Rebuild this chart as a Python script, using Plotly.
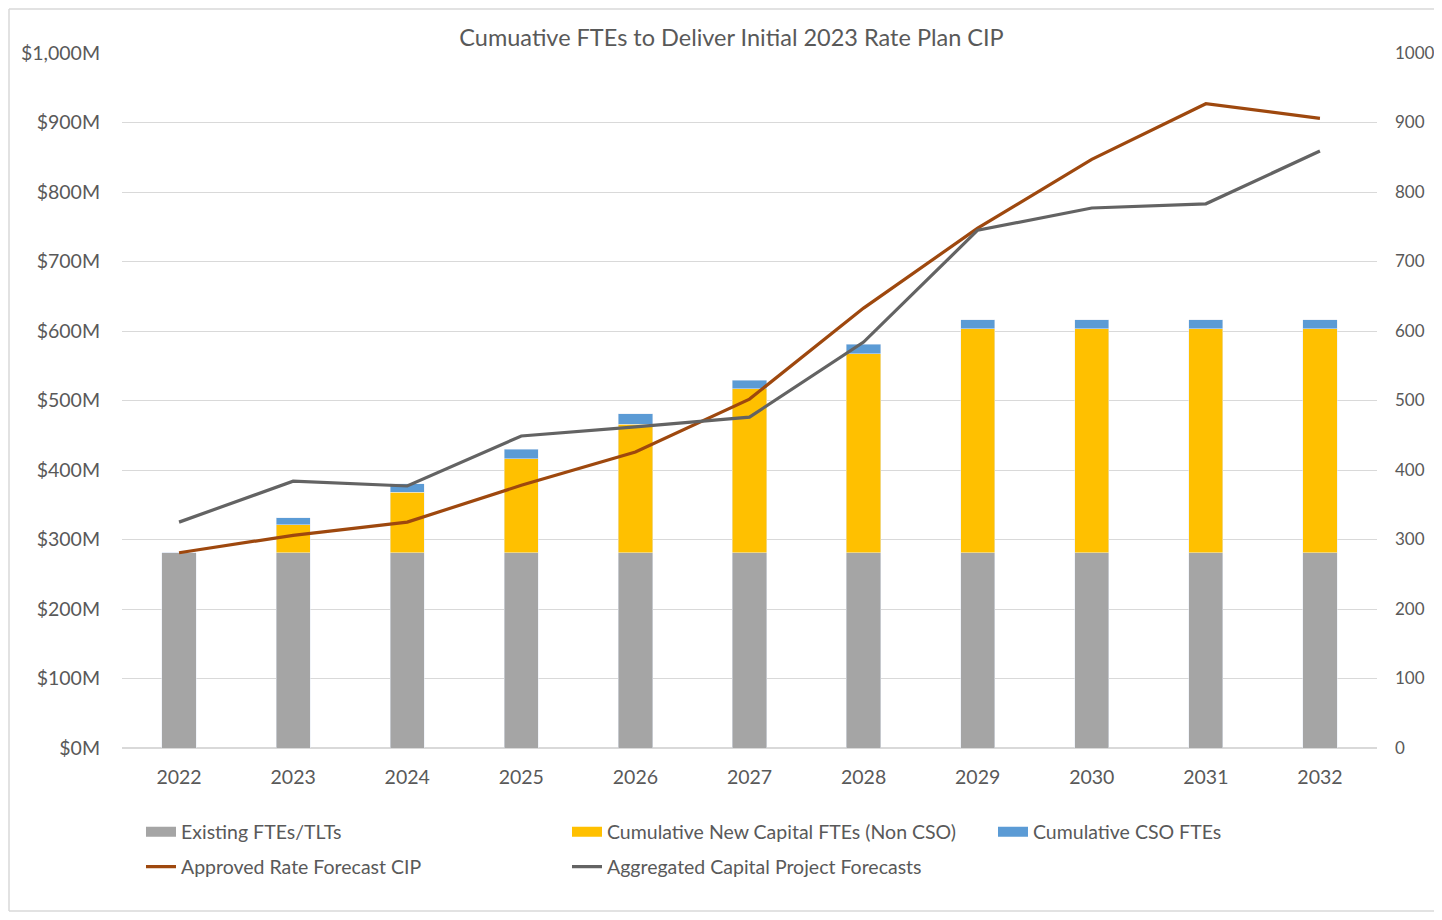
import plotly.graph_objects as go

years = ["2022", "2023", "2024", "2025", "2026", "2027", "2028", "2029", "2030", "2031", "2032"]
existing_ftes = [281, 281, 281, 281, 281, 281, 281, 281, 281, 281, 281]
new_capital_ftes = [0, 40, 87, 135, 185, 236, 286, 322, 322, 322, 322]
cso_ftes = [0, 10, 12, 14, 15, 12, 14, 13, 13, 13, 13]
approved_cip = [281, 306, 325, 378, 426, 502, 633, 748, 847, 927, 906]
aggregated_forecasts = [325, 384, 377, 449, 462, 476, 584, 745, 777, 783, 859]

tickvals = [0, 100, 200, 300, 400, 500, 600, 700, 800, 900, 1000]
left_ticktext = ["$0M", "$100M", "$200M", "$300M", "$400M", "$500M", "$600M", "$700M", "$800M", "$900M", "$1,000M"]
right_ticktext = ["0", "100", "200", "300", "400", "500", "600", "700", "800", "900", "1000"]

bar_names = ["Existing FTEs/TLTs", "Cumulative New Capital FTEs (Non CSO)", "Cumulative CSO FTEs"]
bar_colors = ["#A5A5A5", "#FFC000", "#5B9BD5"]

FONT = "Lato, 'Open Sans', sans-serif"
TXT = "#595959"
FS = 19.5

# page body has an 8px margin: figure coordinates = reference pixels - 8
OFF = 8
W, H = 1442 - OFF, 920 - 2 * OFF
L, R, T, B = 122 - OFF, W - (1377 - OFF), 53 - OFF, H - (748 - OFF)
pw, ph = W - L - R, H - T - B

def px_x(p):
    return (p - OFF - L) / pw

def px_y(p):
    return (H - B - (p - OFF)) / ph

fig = go.Figure()
for vals, name, col in zip([existing_ftes, new_capital_ftes, cso_ftes], bar_names, bar_colors):
    fig.add_trace(go.Bar(x=years, y=vals, name=name, marker_color=col, yaxis="y",
                         showlegend=False))
# legend entries for the bars drawn as wide, thick swatches
for name, col in zip(bar_names, bar_colors):
    fig.add_trace(go.Scatter(x=[None], y=[None], name=name, mode="lines",
                             line=dict(color=col, width=14), yaxis="y", legend="legend"))
fig.add_trace(go.Scatter(x=years, y=approved_cip, name="Approved Rate Forecast CIP",
                         mode="lines", line=dict(color="#9E480E", width=3.2), yaxis="y2",
                         legend="legend2"))
fig.add_trace(go.Scatter(x=years, y=aggregated_forecasts, name="Aggregated Capital Project Forecasts",
                         mode="lines", line=dict(color="#636363", width=3.2), yaxis="y2",
                         legend="legend2"))

legend_common = dict(orientation="h", x=-0.0008, xanchor="left", yanchor="middle",
                     entrywidth=361, entrywidthmode="pixels", traceorder="normal",
                     indentation=20, itemwidth=30,
                     font=dict(size=FS, color=TXT, family=FONT), bgcolor="rgba(0,0,0,0)")

fig.update_layout(
    width=W, height=H,
    margin=dict(l=L, r=R, t=T, b=B, autoexpand=False),
    paper_bgcolor="white", plot_bgcolor="white",
    barmode="stack", bargap=0.7,
    font=dict(family=FONT, size=FS, color=TXT),
    title=dict(text="Cumuative FTEs to Deliver Initial 2023 Rate Plan CIP",
               x=(731.5 - OFF) / W, xanchor="center", y=1 - (38 - OFF) / H, yanchor="middle",
               font=dict(size=23.5, color=TXT, family=FONT)),
    xaxis=dict(type="category", showgrid=False, showline=False, ticks="",
               tickfont=dict(size=FS, color=TXT), ticklabelstandoff=15),
    yaxis=dict(side="right", range=[0, 1000], tickvals=tickvals, ticktext=right_ticktext,
               showgrid=True, gridcolor="#D9D9D9", gridwidth=1, zeroline=True,
               zerolinecolor="#D9D9D9", zerolinewidth=1.5, showline=False, ticks="",
               tickfont=dict(size=17, color=TXT), ticklabelstandoff=17),
    yaxis2=dict(side="left", overlaying="y", range=[0, 1000], tickvals=tickvals,
                ticktext=left_ticktext, showgrid=False, zeroline=False, showline=False,
                ticks="", tickfont=dict(size=FS, color=TXT), ticklabelstandoff=21),
    legend=dict(y=px_y(832), **legend_common),
    legend2=dict(y=px_y(867), **legend_common),
    shapes=[
        dict(type="line", xref="paper", yref="paper", x0=px_x(9), x1=px_x(9),
             y0=px_y(911), y1=px_y(9), line=dict(color="#D9D9D9", width=1.5), layer="below"),
        dict(type="line", xref="paper", yref="paper", x0=px_x(9), x1=px_x(1442),
             y0=px_y(9), y1=px_y(9), line=dict(color="#D9D9D9", width=1.5), layer="below"),
        dict(type="line", xref="paper", yref="paper", x0=px_x(9), x1=px_x(1442),
             y0=px_y(911), y1=px_y(911), line=dict(color="#D9D9D9", width=1.5), layer="below"),
    ],
)

fig.write_html("out.html")
